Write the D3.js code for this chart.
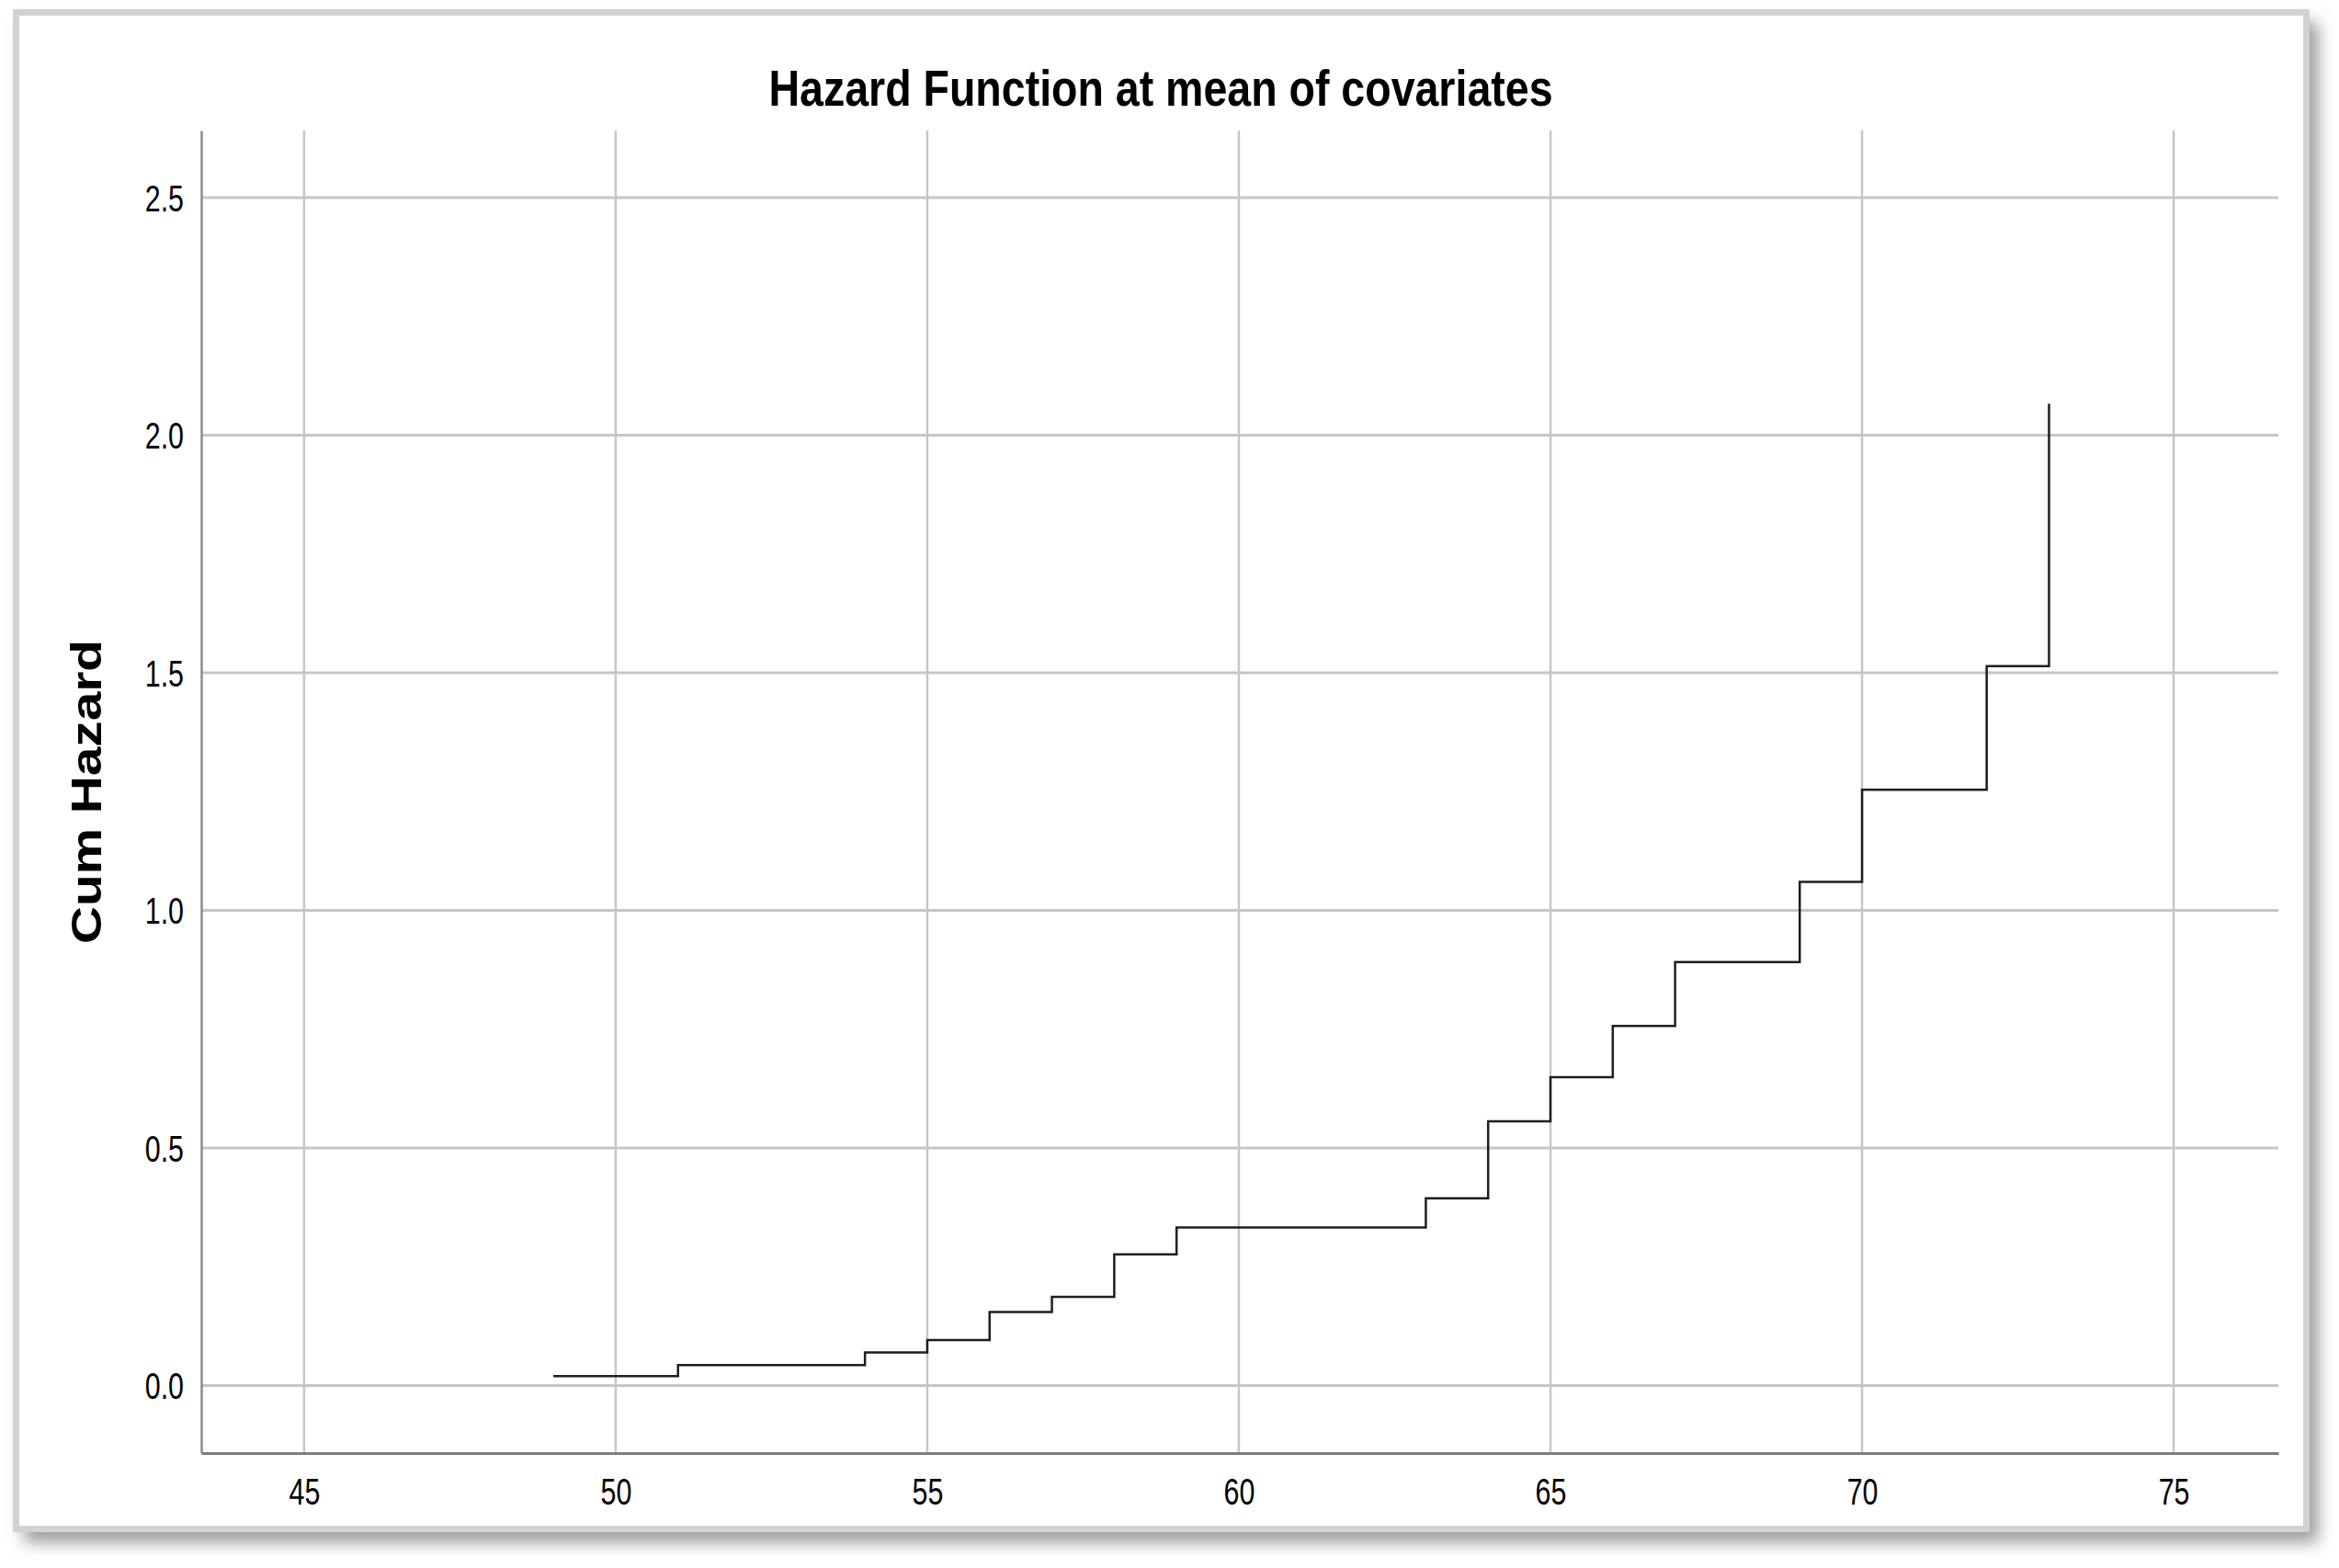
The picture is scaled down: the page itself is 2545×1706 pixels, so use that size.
<!DOCTYPE html>
<html>
<head>
<meta charset="utf-8">
<script src="https://cdn.jsdelivr.net/npm/d3@7/dist/d3.min.js"></script>
<style>
  html, body { margin: 0; padding: 0; background: #ffffff; }
  svg { display: block; }
</style>
</head>
<body>
<svg id="chart" width="2545" height="1706"></svg>
<script>
// ---- data ----
const title = "Hazard Function at mean of covariates";
const yLabel = "Cum Hazard";
const times = [49, 51, 54, 55, 56, 57, 58, 59, 63, 64, 65, 66, 67, 69, 70, 72, 73];
const cumHazard = [0.020, 0.043, 0.070, 0.096, 0.155, 0.187, 0.276, 0.333, 0.394, 0.556, 0.649, 0.757, 0.891, 1.060, 1.254, 1.514, 2.066];
const xTicks = [45, 50, 55, 60, 65, 70, 75];
const yTicks = [0.0, 0.5, 1.0, 1.5, 2.0, 2.5];
const xDomain = [43.35, 76.68];
const yDomain = [-0.142, 2.641];

const svg = d3.select("#chart");
const W = 2545, H = 1706;
const plot = { left: 219, right: 2479, top: 142, bottom: 1581 };

// shadow filter
const defs = svg.append("defs");
const f = defs.append("filter").attr("id", "shadow").attr("x", "-5%").attr("y", "-5%").attr("width", "115%").attr("height", "115%");
f.append("feGaussianBlur").attr("stdDeviation", 9);

// frame shadow + frame
svg.append("rect").attr("x", 26).attr("y", 24).attr("width", 2496).attr("height", 1654)
  .attr("fill", "#9a9a9a").attr("filter", "url(#shadow)");
svg.append("rect").attr("x", 17.5).attr("y", 13.5).attr("width", 2492).attr("height", 1650)
  .attr("fill", "#ffffff").attr("stroke", "#d2d2d2").attr("stroke-width", 7);

const x = d3.scaleLinear().domain(xDomain).range([plot.left, plot.right]);
const y = d3.scaleLinear().domain(yDomain).range([plot.bottom, plot.top]);

// gridlines
const g = svg.append("g");
g.selectAll("line.hg").data(yTicks).join("line").attr("class", "hg")
  .attr("x1", plot.left).attr("x2", plot.right)
  .attr("y1", d => y(d)).attr("y2", d => y(d))
  .attr("stroke", "#c6c6c6").attr("stroke-width", 3);
g.selectAll("line.vg").data(xTicks).join("line").attr("class", "vg")
  .attr("x1", d => x(d)).attr("x2", d => x(d))
  .attr("y1", plot.top).attr("y2", plot.bottom)
  .attr("stroke", "#c6c6c6").attr("stroke-width", 2.5);

// axes
const xAxis = svg.append("g").attr("transform", `translate(0,${plot.bottom})`)
  .call(d3.axisBottom(x).tickValues(xTicks).tickSize(0).tickPadding(0).tickFormat(d3.format("d")));
xAxis.select(".domain").attr("stroke", "#7d7d7d").attr("stroke-width", 3);
xAxis.selectAll("text").attr("y", 56).attr("dy", 0)
  .attr("font-family", "Liberation Sans, Arial, sans-serif").attr("font-size", 40).attr("fill", "#000");

const yAxis = svg.append("g").attr("transform", `translate(${plot.left},0)`)
  .call(d3.axisLeft(y).tickValues(yTicks).tickSize(0).tickPadding(0).tickFormat(d3.format(".1f")));
yAxis.select(".domain").attr("stroke", "#8a8a8a").attr("stroke-width", 2.5);
yAxis.selectAll("text").attr("x", -19).attr("dy", "0.36em")
  .attr("font-family", "Liberation Sans, Arial, sans-serif").attr("font-size", 40).attr("fill", "#000");

// compress tick labels (narrow font look)
svg.selectAll(".tick text").each(function () {
  const len = this.getComputedTextLength();
  d3.select(this).attr("textLength", len * 0.76).attr("lengthAdjust", "spacingAndGlyphs");
});

// step line
const pts = times.map((t, i) => [t, cumHazard[i]]);
const line = d3.line().x(d => x(d[0])).y(d => y(d[1])).curve(d3.curveStepAfter);
svg.append("path").datum(pts).attr("d", line)
  .attr("fill", "none").attr("stroke", "#1e1e1e").attr("stroke-width", 2.5);

// title
svg.append("text").attr("x", 1263).attr("y", 115).attr("text-anchor", "middle")
  .attr("font-family", "Liberation Sans, Arial, sans-serif").attr("font-weight", "bold")
  .attr("font-size", 56).attr("fill", "#000")
  .attr("textLength", 853).attr("lengthAdjust", "spacingAndGlyphs")
  .text(title);

// y label
svg.append("text").attr("transform", `translate(110,${(plot.top + plot.bottom) / 2}) rotate(-90)`)
  .attr("text-anchor", "middle")
  .attr("font-family", "Liberation Sans, Arial, sans-serif").attr("font-weight", "bold")
  .attr("font-size", 46).attr("fill", "#000")
  .attr("textLength", 331).attr("lengthAdjust", "spacingAndGlyphs")
  .text(yLabel);
</script>
</body>
</html>
